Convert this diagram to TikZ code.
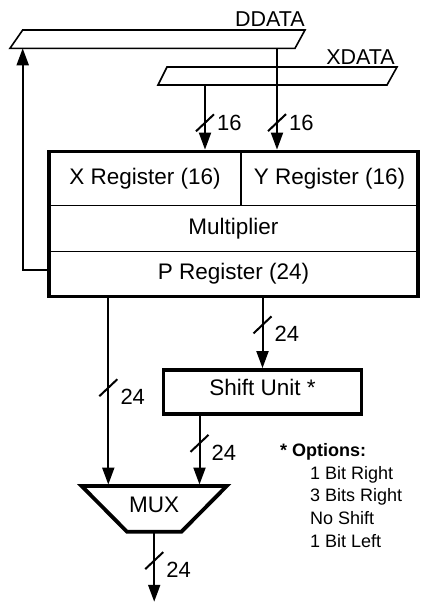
\documentclass[tikz,border=0pt]{standalone}
\usepackage{fontspec}
\setmainfont{Liberation Sans}
\usetikzlibrary{arrows.meta, positioning, fit}
\tikzset{%
	reg/.style={draw, rectangle, line width=1.9pt, inner sep=0pt, outer sep=0pt,%
		text height=1.1em, text depth=0pt},
	macframe/.style={draw, rectangle, line width=3.8pt, inner sep=0pt},
	unit/.style={draw, rectangle, line width=3.8pt, inner sep=0pt,%
		text height=0.72em, text depth=0pt},
	bus/.style={rectangle, inner sep=0pt, outer sep=0pt},
	busline/.style={draw, fill=white, line width=1.6pt},
	muxline/.style={draw, line width=3.8pt, line join=miter},
	buslbl/.style={inner sep=0pt, font=\fontsize{21.5}{24}\selectfont},
	sel/.style={-{Triangle[length=17pt, width=12pt]}, line width=2pt},
	wtick/.style={line width=2pt},
	wlbl/.style={anchor=west, inner sep=0pt, xshift=12pt, font=\fontsize{22}{24}\selectfont},
	note/.style={inner sep=0pt, font=\fontsize{18}{22.7}\selectfont}
}
\begin{document}
\begin{tikzpicture}[x=1pt, y=-1pt, font=\fontsize{22.5}{26}\selectfont]
	\useasboundingbox (0,0) rectangle (430,605);

	% data buses
	\node[bus, minimum width=295pt, minimum height=18.3pt] (ddata) at (157.5,39.15) {};
	\draw[busline] (ddata.south west) -- ([xshift=12.7pt]ddata.north west) -- (ddata.north east)
		-- ([xshift=-10pt]ddata.south east) -- cycle;
	\node[buslbl, anchor=base east] (ddata-l) at ([yshift=4pt]ddata.north east) {DDATA};
	\node[bus, minimum width=239pt, minimum height=18pt] (xdata) at (277.5,76) {};
	\draw[busline] (xdata.south west) -- ([xshift=9pt]xdata.north west) -- (xdata.north east)
		-- ([xshift=-10pt]xdata.south east) -- cycle;
	\node[buslbl, anchor=base east] (xdata-l) at ([xshift=-2pt, yshift=3pt]xdata.north east) {XDATA};

	% multiplier block
	\node[reg, minimum width=192pt, minimum height=54pt, anchor=north west] (xreg) at (49,151.5) {X Register (16)};
	\node[reg, minimum width=177pt, minimum height=54pt, right=0pt of xreg] (yreg) {Y Register (16)};
	\node[reg, minimum width=369pt, minimum height=46pt, below=0pt of xreg.south west, anchor=north west] (mult) {Multiplier};
	\node[reg, minimum width=369pt, minimum height=45pt, below=0pt of mult] (preg) {P Register (24)};
	\node[macframe, fit=(xreg) (yreg) (mult) (preg)] (mac) {};

	\node[unit, minimum width=198pt, minimum height=44pt] (shifter) at (262.5,392) {Shift Unit *};
	\node[bus, minimum width=145pt, minimum height=45.7pt, text height=0.72em, text depth=0pt] (mux) at (154.2,508.9) {MUX};
	\draw[muxline] (mux.north west) -- (mux.north east) -- ([xshift=-45.3pt]mux.south east)
		-- ([xshift=45.3pt]mux.south west) -- cycle;
	\coordinate[below=70pt of mux.south] (out);

	% connections
	\draw[sel] (xdata.south -| 205,0) -- coordinate[pos=0.585] (m-x) (mac.north -| 205,0);
	\draw[sel] (ddata.south -| 277,0) -- coordinate[pos=0.734] (m-y) (mac.north -| 277,0);
	\draw[sel] ([yshift=4pt]preg.west) -| ([xshift=12.7pt]ddata.south west);
	\draw[sel] (mac.south -| 108.3,0) -- coordinate[pos=0.48] (m-p) ([yshift=1.5pt]mux.north -| 108.3,0);
	\draw[sel] (mac.south -| shifter.north) -- coordinate[pos=0.38] (m-s) (shifter.north);
	\draw[sel] (shifter.south -| 199.5,0) -- coordinate[pos=0.4] (m-u) ([yshift=1.5pt]mux.north -| 199.5,0);
	\draw[sel] ([yshift=-1.5pt]mux.south) -- coordinate[pos=0.4] (m-o) (out);

	% bus widths
	\foreach \m in {m-x, m-y, m-p, m-s, m-u, m-o}
		\draw[wtick] ([shift={(-9,8.5)}]\m) -- ([shift={(9,-8.5)}]\m);
	\node[wlbl] (w-x) at (m-x) {16};
	\node[wlbl] (w-y) at (m-y) {16};
	\node[wlbl, yshift=-9pt] (w-p) at (m-p) {24};
	\node[wlbl, yshift=-9pt] (w-s) at (m-s) {24};
	\node[wlbl, yshift=-9pt] (w-u) at (m-u) {24};
	\node[wlbl, yshift=-9pt] (w-o) at (m-o) {24};

	% shift options
	\node[note, font=\fontsize{18}{22.7}\selectfont\bfseries, anchor=base west] (opt) at (280,456) {* Options:};
	\node[note, align=left, anchor=north west] (opt-list) at (310,466) {1 Bit Right\\3 Bits Right\\No Shift\\1 Bit Left};
\end{tikzpicture}
\end{document}
